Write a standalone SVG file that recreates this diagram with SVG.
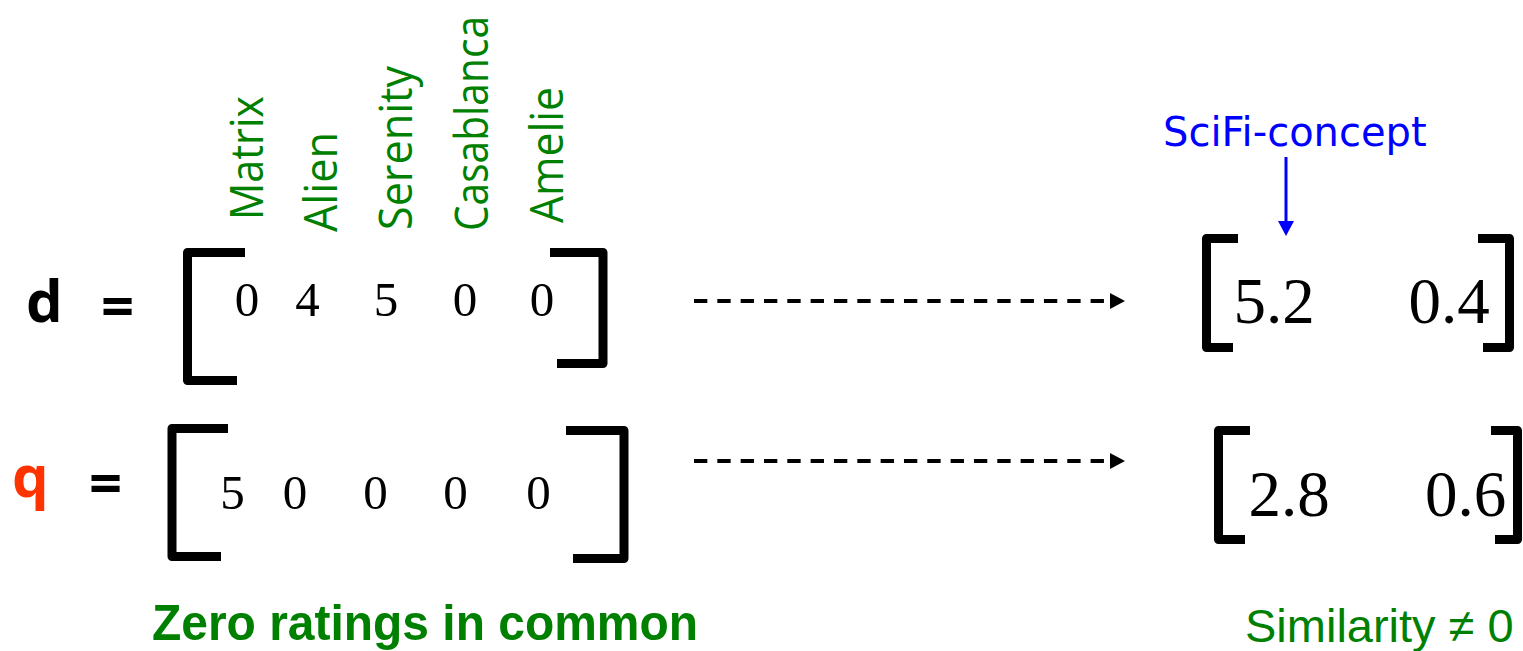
<svg xmlns="http://www.w3.org/2000/svg" width="1523" height="651" viewBox="0 0 1523 651">
<style>
.lbl{font-family:"Open Sans","Noto Sans",sans-serif;font-size:46px;fill:#008000}
.num{font-family:"Liberation Serif",serif;font-size:49px;fill:#000;text-anchor:middle}
.big{font-family:"Liberation Serif",serif;font-size:65px;fill:#000;text-anchor:middle}
.var{font-family:"Open Sans","Noto Sans",sans-serif;font-weight:bold;font-size:58px}
.br{fill:none;stroke:#000;stroke-width:9;stroke-linejoin:round}
.dash{fill:none;stroke:#000;stroke-width:4;stroke-dasharray:13.33 10}
</style>
<defs>
<marker id="ah" markerUnits="userSpaceOnUse" markerWidth="15" markerHeight="16" refX="2" refY="8" orient="auto" viewBox="0 0 15 16">
<path d="M0,0 L15,8 L0,16 z" fill="#000"/>
</marker>
<marker id="ahb" markerUnits="userSpaceOnUse" markerWidth="15" markerHeight="16" refX="2" refY="8" orient="auto" viewBox="0 0 15 16">
<path d="M0,0 L15,8 L0,16 z" fill="#0000FF"/>
</marker>
</defs>
<g id="movie-labels">
<text class="lbl" transform="translate(263,220) rotate(-90)" textLength="124" lengthAdjust="spacingAndGlyphs">Matrix</text>
<text class="lbl" transform="translate(337,232) rotate(-90)" textLength="100" lengthAdjust="spacingAndGlyphs">Alien</text>
<text class="lbl" transform="translate(412,230) rotate(-90)" textLength="164" lengthAdjust="spacingAndGlyphs">Serenity</text>
<text class="lbl" transform="translate(488,231) rotate(-90)" textLength="215" lengthAdjust="spacingAndGlyphs">Casablanca</text>
<text class="lbl" transform="translate(563,223) rotate(-90)" textLength="136" lengthAdjust="spacingAndGlyphs">Amelie</text>
</g>
<g id="d-row">
<text class="var" x="26" y="322">d</text>
<text class="var" x="101" y="327">=</text>
<polyline class="br" points="245,252.5 187.5,252.5 187.5,380.5 237,380.5"/>
<polyline class="br" points="550,252.5 603,252.5 603,363.5 557,363.5"/>
<text class="num" x="247" y="316">0</text>
<text class="num" x="307.5" y="316">4</text>
<text class="num" x="386" y="316">5</text>
<text class="num" x="465" y="316">0</text>
<text class="num" x="542" y="316">0</text>
</g>
<g id="q-row">
<text class="var" x="12" y="497" fill="#FF3300">q</text>
<text class="var" x="89" y="504">=</text>
<polyline class="br" points="228,428.5 172,428.5 172,556.5 221,556.5"/>
<polyline class="br" points="566,430.5 624,430.5 624,558.5 573,558.5"/>
<text class="num" x="232.5" y="509">5</text>
<text class="num" x="295" y="509">0</text>
<text class="num" x="375.5" y="509">0</text>
<text class="num" x="455.5" y="509">0</text>
<text class="num" x="538.5" y="509">0</text>
</g>
<g id="d-concept">
<polyline class="br" points="1238,238.5 1206.5,238.5 1206.5,347.5 1233,347.5"/>
<polyline class="br" points="1478,238.5 1509.5,238.5 1509.5,347.5 1483,347.5"/>
<text class="big" x="1274" y="323">5.2</text>
<text class="big" x="1449" y="323">0.4</text>
</g>
<g id="q-concept">
<polyline class="br" points="1250,430.5 1218.5,430.5 1218.5,539.5 1245,539.5"/>
<polyline class="br" points="1491,430.5 1517.5,430.5 1517.5,539.5 1495,539.5"/>
<text class="big" x="1289" y="516">2.8</text>
<text class="big" x="1465.5" y="516">0.6</text>
</g>
<g id="scifi-label">
<text x="1163" y="146" font-family="DejaVu Sans,sans-serif" font-size="40" fill="#0000FF">SciFi-concept</text>
</g>
<g id="captions">
<text x="152" y="640" font-family="Liberation Sans,Arial,sans-serif" font-weight="bold" font-size="50" fill="#008000" textLength="546" lengthAdjust="spacingAndGlyphs">Zero ratings in common</text>
<text x="1245" y="642" font-family="Liberation Sans,Arial,sans-serif" font-size="47" fill="#008000">Similarity ≠ 0</text>
</g>
<g id="connectors">
<line class="dash" x1="694" y1="301" x2="1112" y2="301" marker-end="url(#ah)"/>
<line class="dash" x1="694" y1="461" x2="1112" y2="461" marker-end="url(#ah)"/>
<line x1="1286" y1="157" x2="1286" y2="223" stroke="#0000FF" stroke-width="3" marker-end="url(#ahb)"/>
</g>
</svg>
